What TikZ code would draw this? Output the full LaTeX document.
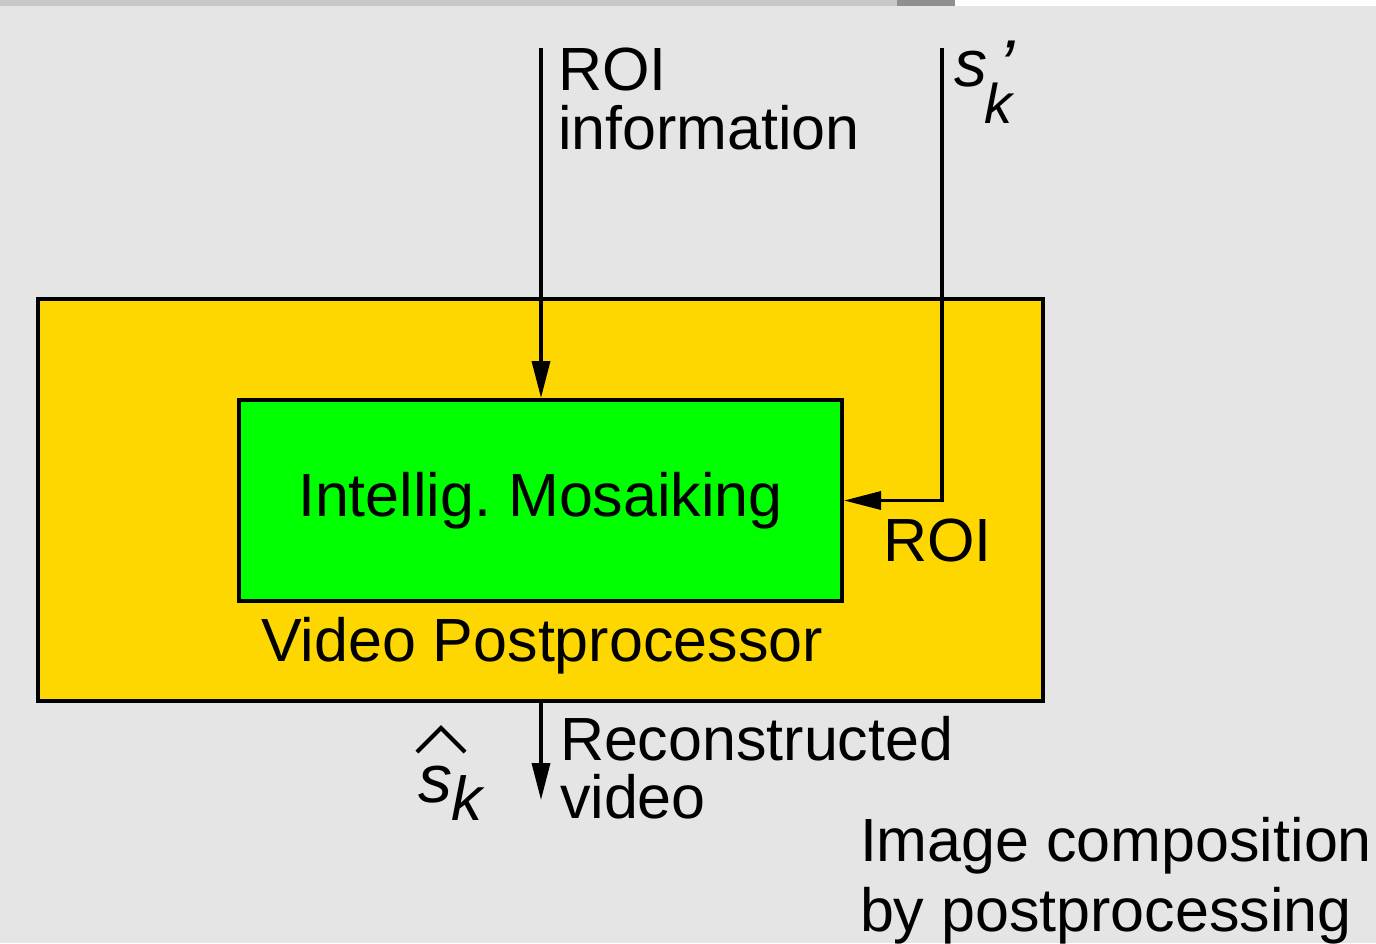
\documentclass[tikz,border=0pt]{standalone}
\usepackage{fontspec}
\setmainfont{Liberation Sans}
\usetikzlibrary{arrows.meta}
\definecolor{bgc}{HTML}{E5E5E5}
\definecolor{goldc}{HTML}{FFD700}
\definecolor{greenc}{HTML}{00FF00}
\definecolor{stripa}{HTML}{C8C8C8}
\definecolor{stripb}{HTML}{8F8F8F}
\begin{document}
\frenchspacing
\begin{tikzpicture}[x=1pt,y=-1pt,
  lbl/.style={inner sep=0pt, outer sep=0pt, anchor=base west, align=left},
  txt/.style={font=\fontsize{61}{59}\selectfont},
  arr/.style={-{Triangle[length=37pt,width=18pt]}, line width=3.5pt},
  box/.style={draw=black, line width=4pt, inner sep=0pt}]
\fill[bgc] (0,0) rectangle (1376,943);
\useasboundingbox (0,0) rectangle (1376,943);
\fill[stripa] (0,0) rectangle (897,6);
\fill[stripb] (897,0) rectangle (955,6);
\fill[white] (955,0) rectangle (1376,6);

\node[box, fill=goldc, minimum width=1005pt, minimum height=402pt] (outer) at (540.5,500) {};
\node[box, fill=greenc, minimum width=603pt, minimum height=201pt, txt] (inner) at (540.5,500.5) {Intellig.\ Mosaiking};
\node[lbl, txt, anchor=base] (vpp) at (542,661) {Video Postprocessor};

% base anchor of a multi-line node = baseline of its last line
\node[lbl, font=\fontsize{61}{59}\selectfont] (roiinfo) at (558,149) {ROI\\information};
\node[lbl, font=\fontsize{61}{58}\selectfont] (recon) at (560,818) {Reconstructed\\video};
\node[lbl, font=\fontsize{61}{70}\selectfont] (imgcomp) at (860,931) {Image composition\\by postprocessing};
\node[lbl, txt] (roi) at (883,561) {ROI};

% s'_k
\node[lbl, font=\fontsize{66}{66}\selectfont\itshape] (s1) at (954,86)
  {s\kern-3pt\rlap{\raisebox{-37pt}{\fontsize{56}{56}\selectfont k}}\kern14pt\raisebox{-4pt}{\fontsize{72}{72}\selectfont ’}};

% hat s_k
\node[lbl, font=\fontsize{68}{68}\selectfont\itshape] (s2) at (418,802)
  {s\kern-1pt\raisebox{-18pt}{\fontsize{62}{62}\selectfont k}};
\draw[line width=4pt] (417,752) -- (441,728) -- (465,752);

% connectors
\coordinate (roiTop) at (541,48);
\draw[arr] (roiTop) -- (roiTop |- inner.north);
\coordinate (skTop) at (942,48);
\draw[arr] (skTop) |- (inner.east);
\coordinate (outEnd) at (541,800);
\draw[arr] (outEnd |- outer.south) -- (outEnd);
\end{tikzpicture}
\end{document}
